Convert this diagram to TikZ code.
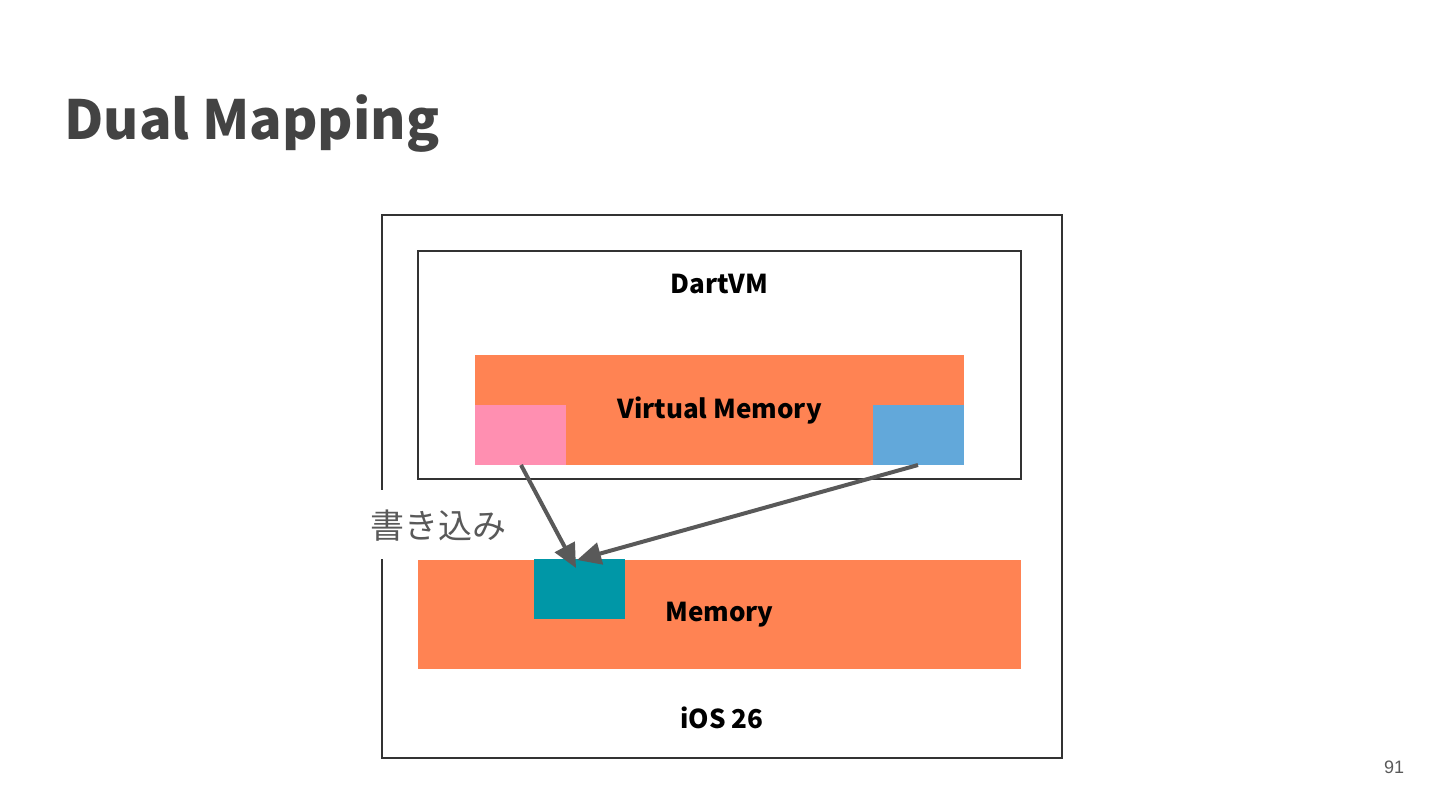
\documentclass[tikz,border=0pt]{standalone}
\usepackage{fontspec}
\setmainfont{Noto Sans CJK JP}
\newfontfamily\jp{Noto Sans CJK JP}
\newfontfamily\pagefont{Liberation Sans}
\usetikzlibrary{arrows.meta}
\definecolor{boxorange}{HTML}{FF8353}
\definecolor{boxpink}{HTML}{FF8FB1}
\definecolor{boxblue}{HTML}{62A8DA}
\definecolor{boxteal}{HTML}{0097A7}
\definecolor{arrowgray}{HTML}{595959}
\definecolor{titlegray}{HTML}{434343}
\tikzset{
  frame/.style={draw=black!80, line width=0.6pt},
  lbl/.style={font=\bfseries\fontsize{13}{15}\selectfont, text=black, inner sep=0pt},
  conn/.style={draw=arrowgray, line width=2pt, -{Triangle[length=12pt,width=11pt]}}
}
\begin{document}
\begin{tikzpicture}[x=0.5pt,y=-0.5pt]
\useasboundingbox (0,0) rectangle (1440,810);
% title
\node[anchor=base west, inner sep=0pt, text=titlegray, font=\bfseries\fontsize{27}{31}\selectfont] (title) at (64,139) {Dual Mapping};
% outer box
\draw[frame] (382,215) rectangle (1062,758);
% DartVM box
\draw[frame] (418,251) rectangle (1021,479);
\node[lbl] (dartvm) at (719.5,284) {DartVM};
% virtual memory
\fill[boxorange] (475,355) rectangle (964,465);
\fill[boxpink] (475,405) rectangle (566,465);
\fill[boxblue] (873,405) rectangle (964,465);
\node[lbl] (vm) at (719.5,411) {Virtual Memory};
\coordinate (pinkS) at (521,465);
\coordinate (blueS) at (918,465);
% label with white background
\fill[white] (370,490) rectangle (523,559);
\node[inner sep=0pt, text=arrowgray, font=\jp\fontsize{17}{19}\selectfont] (write) at (438,526) {書き込み};
% memory
\fill[boxorange] (418,560) rectangle (1021,669);
\fill[boxteal] (534,559) rectangle (625,619);
\node[lbl] (mem) at (719.5,615) {Memory};
\coordinate (pinkE) at (576,568);
\coordinate (blueE) at (577,560);
% arrows
\draw[conn] (pinkS) -- (pinkE);
\draw[conn] (blueS) -- (blueE);
\node[lbl] (ios) at (722,718) {iOS\ 26};
\node[inner sep=0pt, text=arrowgray, font=\pagefont\fontsize{9}{11}\selectfont] (page) at (1394,767) {91};
\end{tikzpicture}
\end{document}
